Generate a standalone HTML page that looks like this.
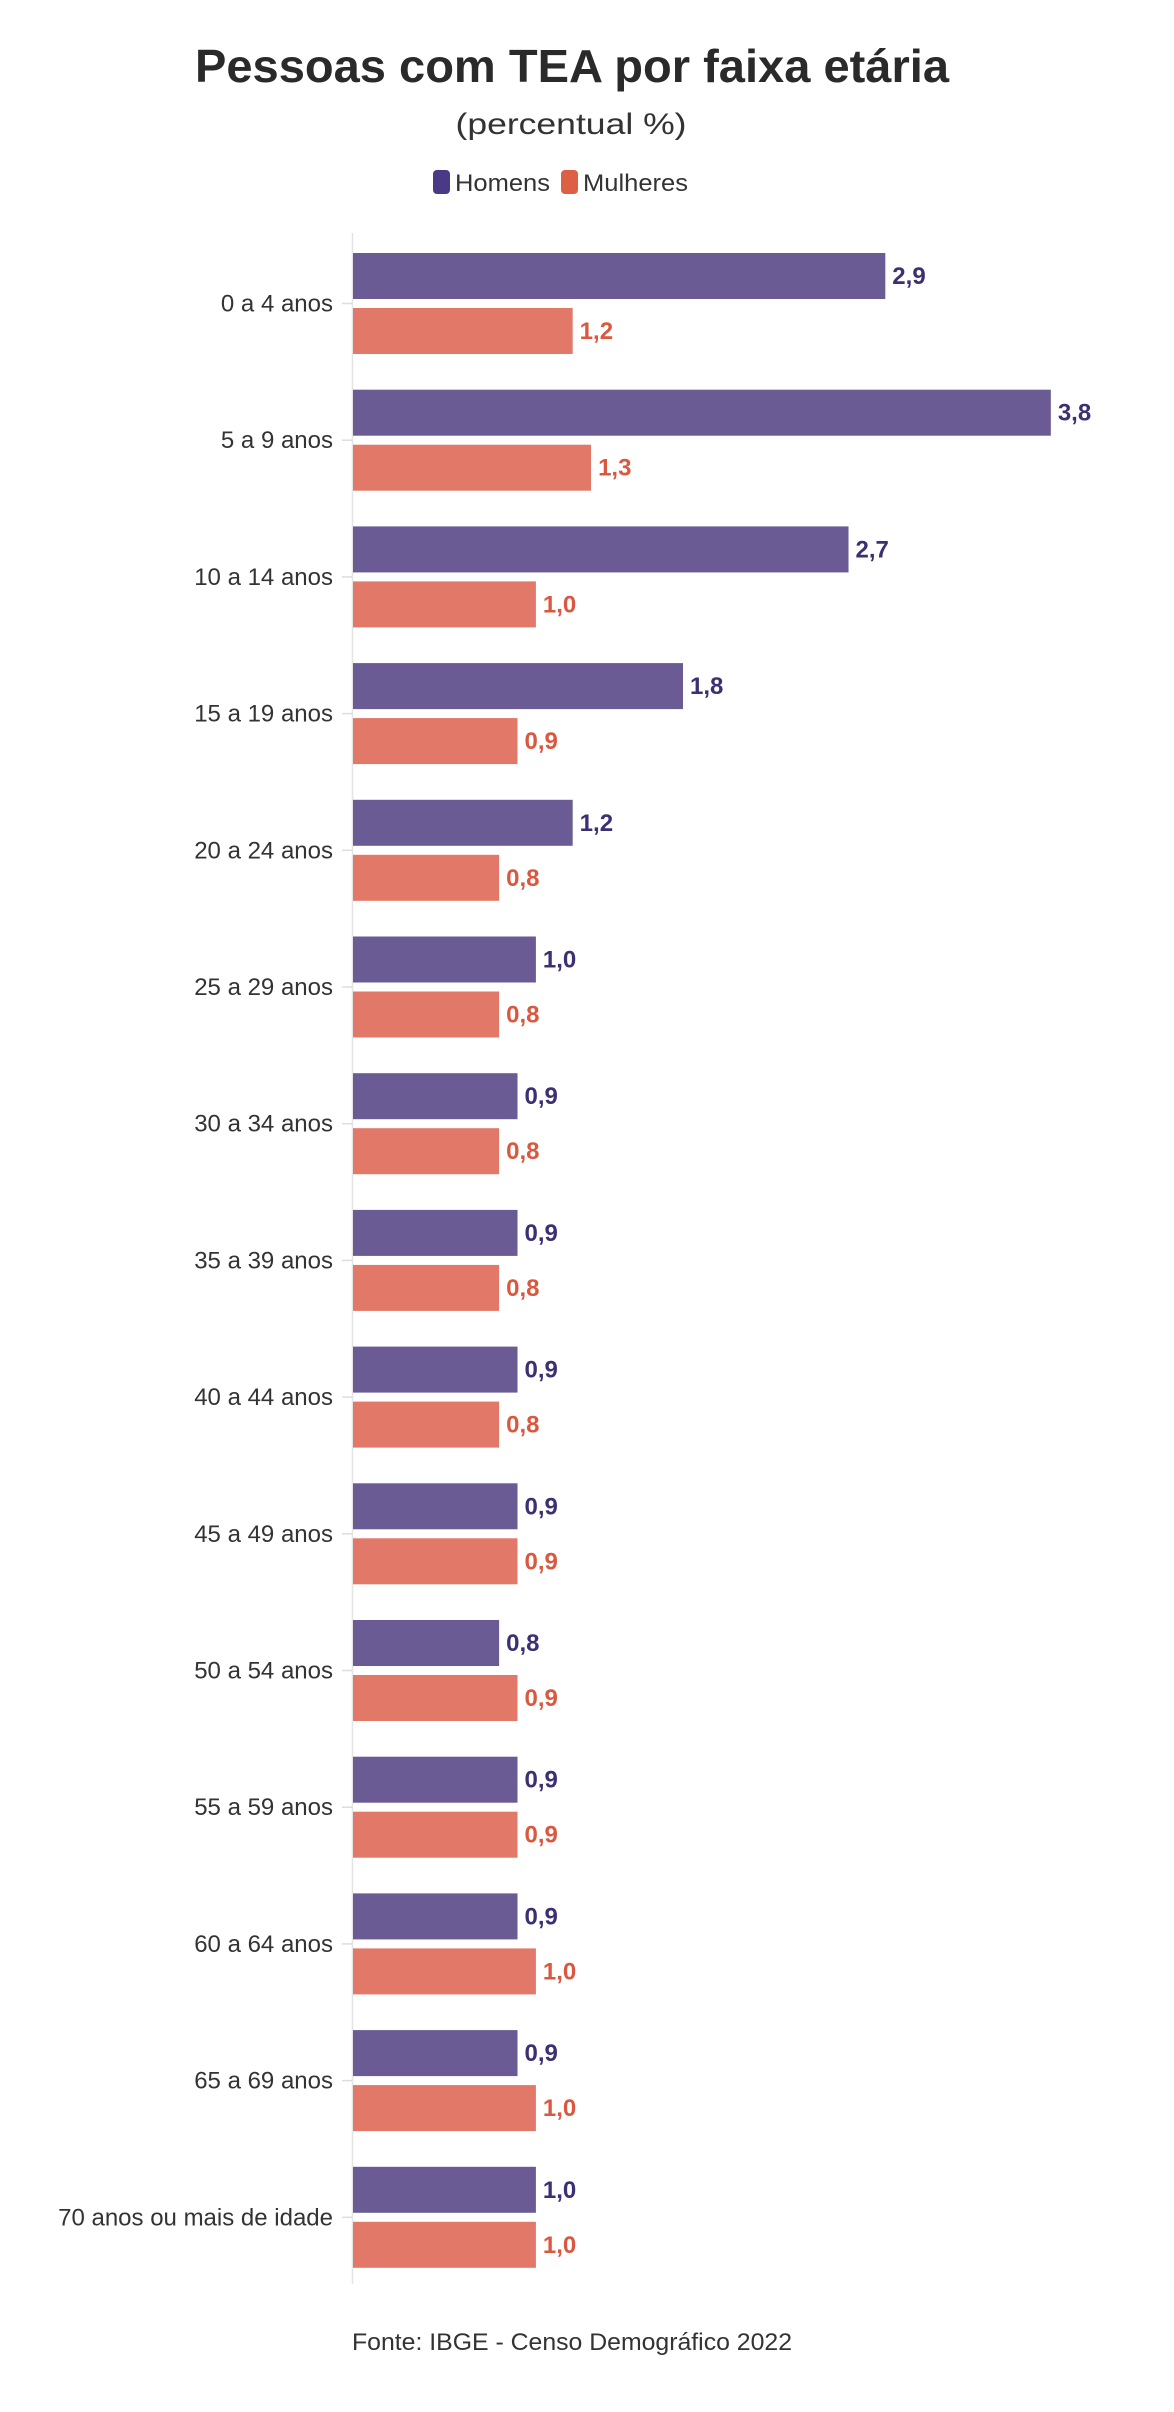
<!DOCTYPE html>
<html><head><meta charset="utf-8"><style>
html,body{margin:0;padding:0;background:#fff;}
svg{display:block;font-family:"Liberation Sans",sans-serif;}
</style></head><body>
<svg id="chart" width="1174" height="2412" viewBox="0 0 1174 2412" xmlns="http://www.w3.org/2000/svg">
<text x="572" y="82" text-anchor="middle" font-size="46" font-weight="bold" fill="#2a2a2a" textLength="754" lengthAdjust="spacingAndGlyphs">Pessoas com TEA por faixa etária</text>
<text x="571" y="134" text-anchor="middle" font-size="30" fill="#333" textLength="231" lengthAdjust="spacingAndGlyphs">(percentual %)</text>
<g>
<g><rect x="433" y="170" width="17" height="24" rx="4" fill="#4a3a85"/><text x="455" y="191" font-size="24" fill="#333" textLength="95" lengthAdjust="spacingAndGlyphs">Homens</text></g>
<g><rect x="561" y="170" width="17" height="24" rx="4" fill="#dd5f46"/><text x="583" y="191" font-size="24" fill="#333" textLength="105" lengthAdjust="spacingAndGlyphs">Mulheres</text></g>
</g>
<line x1="352.5" y1="233" x2="352.5" y2="2284" stroke="#e4e4e4" stroke-width="1.5"/>
<g id="bars"></g>
<text x="352" y="2350" font-size="24" fill="#333" textLength="440" lengthAdjust="spacingAndGlyphs">Fonte: IBGE - Censo Demográfico 2022</text>
</svg>
<script>
const categories = ["0 a 4 anos","5 a 9 anos","10 a 14 anos","15 a 19 anos","20 a 24 anos","25 a 29 anos","30 a 34 anos","35 a 39 anos","40 a 44 anos","45 a 49 anos","50 a 54 anos","55 a 59 anos","60 a 64 anos","65 a 69 anos","70 anos ou mais de idade"];
const homens = [2.9,3.8,2.7,1.8,1.2,1.0,0.9,0.9,0.9,0.9,0.8,0.9,0.9,0.9,1.0];
const mulheres = [1.2,1.3,1.0,0.9,0.8,0.8,0.8,0.8,0.8,0.9,0.9,0.9,1.0,1.0,1.0];

const NS = "http://www.w3.org/2000/svg";
const x0 = 352, pxPerUnit = 183.9;
const y0 = 253, pitch = 136.7, barH = 46, gap = 9;
function xScale(v){ return x0 + v * pxPerUnit; }
function yScale(i){ return y0 + i * pitch; }
function fmt(v){ return v.toFixed(1).replace(".", ","); }
const g = document.getElementById("bars");
function mk(tag, attrs){ const e = document.createElementNS(NS, tag); for (const k in attrs) e.setAttribute(k, attrs[k]); return e; }

categories.forEach((c, i) => {
  const y = yScale(i);
  const lab = mk("text", {x: 333, y: y + barH + gap/2 + 8, "text-anchor": "end", "font-size": 24, fill: "#333"});
  
  
  lab.textContent = c;
  g.appendChild(lab);
  const tick = mk("line", {x1: 342, x2: 352, y1: y + barH + gap/2, y2: y + barH + gap/2, stroke: "#ddd", "stroke-width": 1.5});
  
  
  g.appendChild(tick);

  const series = [[homens[i], y, "#6a5b94", "#3d2f72"], [mulheres[i], y + barH + gap, "#e27868", "#d9583f"]];
  series.forEach(([v, by, fill, tcol], s) => {
    const r = mk("rect", {x: x0 + 1, y: by, width: xScale(v) - x0 - 1, height: barH, fill: fill});
    
    
    g.appendChild(r);
    const t = mk("text", {x: xScale(v) + 7, y: by + barH/2 + 8, "font-size": 24, "font-weight": "bold", fill: tcol});
    
    
    t.textContent = fmt(v);
    g.appendChild(t);
  });
});
</script>
</body></html>
